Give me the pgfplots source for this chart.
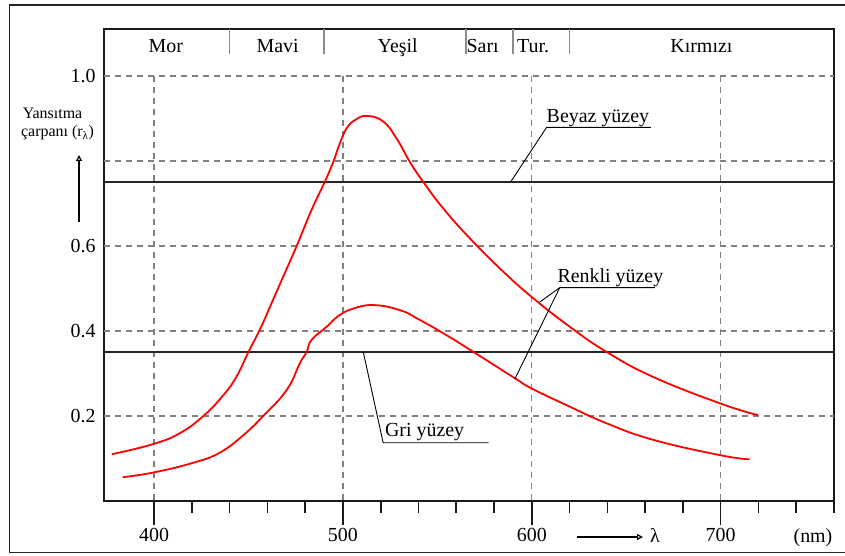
\documentclass[border=0pt]{standalone}
\usepackage{fontspec}
\setmainfont{Liberation Serif}
\usepackage{pgfplots}
\pgfplotsset{compat=1.18}
\usetikzlibrary{arrows.meta}
\definecolor{gridgray}{RGB}{128,128,128}
\definecolor{sepgray}{RGB}{140,140,140}
\definecolor{curvered}{RGB}{255,0,0}
\begin{document}
\begin{tikzpicture}[x=1bp,y=1bp]
\useasboundingbox (0,0) rectangle (845,556);
\draw[line width=1.4bp, black!85] (9.3,3.3) rectangle (870,551);
\begin{axis}[
  at={(104bp,55bp)}, anchor=south west,
  scale only axis, width=730bp, height=472bp,
  xmin=373.5, xmax=760, ymin=0, ymax=1.1106,
  clip=false,
  axis line style={line width=1.6bp, black!90},
  xtick={400,500,600,700}, xticklabels={400,500,600,700},
  minor xtick={420,440,...,760},
  ytick={0.2,0.4,0.6,1.0}, yticklabels={0.2,0.4,0.6,1.0},
  xtick pos=bottom, ytick pos=left,
  tick align=outside,
  major tick length=24bp, minor tick length=12bp,
  every tick/.style={black!90, line width=1.6bp},
  ytick style={draw=none},
  tick label style={font=\fontsize{20}{24}\selectfont, black},
  yticklabel style={xshift=19bp},
]
% grid
\draw[gridgray, line width=1.3bp, dash pattern=on 6bp off 5bp] (axis cs:373.5,0.2) -- (axis cs:760,0.2);
\draw[gridgray, line width=1.3bp, dash pattern=on 6bp off 5bp] (axis cs:373.5,0.4) -- (axis cs:760,0.4);
\draw[gridgray, line width=1.3bp, dash pattern=on 6bp off 5bp] (axis cs:373.5,0.6) -- (axis cs:760,0.6);
\draw[gridgray, line width=1.3bp, dash pattern=on 6bp off 5bp] (axis cs:373.5,0.8) -- (axis cs:760,0.8);
\draw[gridgray, line width=1.3bp, dash pattern=on 6bp off 5bp] (axis cs:373.5,1.0) -- (axis cs:760,1.0);
\draw[gridgray, line width=1.3bp, dash pattern=on 6bp off 5bp] (axis cs:400,1.0) -- (axis cs:400,0);
\draw[gridgray, line width=1.3bp, dash pattern=on 6bp off 5bp] (axis cs:500,1.0) -- (axis cs:500,0);
\draw[gridgray, line width=1.3bp, dash pattern=on 6bp off 5bp] (axis cs:600,1.0) -- (axis cs:600,0);
\draw[gridgray, line width=1.3bp, dash pattern=on 6bp off 5bp] (axis cs:700,1.0) -- (axis cs:700,0);
% header separators
\draw[sepgray, line width=1.6bp] (axis cs:440,1.1106) -- (axis cs:440,1.052);
\draw[sepgray, line width=1.6bp] (axis cs:490,1.1106) -- (axis cs:490,1.052);
\draw[sepgray, line width=1.6bp] (axis cs:565,1.1106) -- (axis cs:565,1.052);
\draw[sepgray, line width=1.6bp] (axis cs:590,1.1106) -- (axis cs:590,1.052);
\draw[sepgray, line width=1.6bp] (axis cs:620,1.1106) -- (axis cs:620,1.052);
\node[anchor=base, font=\fontsize{20}{24}\selectfont] at (axis cs:406.2,1.055) {Mor};
\node[anchor=base, font=\fontsize{20}{24}\selectfont] at (axis cs:465.4,1.055) {Mavi};
\node[anchor=base, font=\fontsize{20}{24}\selectfont] at (axis cs:529,1.055) {Yeşil};
\node[anchor=base, font=\fontsize{20}{24}\selectfont] at (axis cs:574,1.055) {Sarı};
\node[anchor=base, font=\fontsize{20}{24}\selectfont] at (axis cs:600.7,1.055) {Tur.};
\node[anchor=base, font=\fontsize{20}{24}\selectfont] at (axis cs:689.8,1.055) {Kırmızı};
% surfaces
\addplot[black!85, line width=1.8bp] coordinates {(373.5,0.75) (760,0.75)};
\addplot[black!85, line width=1.8bp] coordinates {(373.5,0.35) (760,0.35)};
% coloured surface curves
\addplot[curvered, line width=1.8bp, smooth, tension=0.75] coordinates {
 (377.6,0.110) (399.6,0.134) (413.8,0.160) (426.1,0.200) (436.7,0.249) (443.7,0.293)
 (449.9,0.350) (456.1,0.404) (461.4,0.457) (467.6,0.520) (475.5,0.600) (483.4,0.685)
 (490.5,0.752) (494.9,0.798) (498.4,0.842) (502,0.877) (506.3,0.896) (512.5,0.906)
 (521.3,0.893) (528.4,0.853) (535.4,0.798) (542.5,0.751) (553,0.689) (567.2,0.618)
 (584.8,0.540) (600.5,0.478) (620.1,0.410) (639.5,0.351) (664.2,0.292) (699.5,0.230)
 (719.7,0.202)};
\addplot[curvered, line width=1.8bp, smooth, tension=0.75] coordinates {
 (383.4,0.056) (399.6,0.067) (420.8,0.090) (434.9,0.114) (447.3,0.155) (457.8,0.200)
 (470.2,0.261) (477.2,0.324) (480.8,0.351) (483.4,0.379) (491.4,0.410) (497.5,0.435)
 (505,0.452) (516.1,0.461) (530.2,0.449) (540.7,0.426) (554.9,0.390) (569,0.351)
 (591,0.289) (599.8,0.265) (620.1,0.222) (639.5,0.183) (664.2,0.144) (699.5,0.108)
 (715.3,0.098)};
% annotations
\draw[black, line width=0.9bp] (axis cs:588.7,0.75) -- (axis cs:607.8,0.879) -- (axis cs:663,0.879);
\node[anchor=base west, inner sep=0pt, font=\fontsize{20}{24}\selectfont] at (axis cs:607.8,0.8906) {Beyaz yüzey};
\draw[black, line width=0.9bp] (axis cs:604.2,0.468) -- (axis cs:614.8,0.502) -- (axis cs:665.1,0.502);
\draw[black, line width=0.9bp] (axis cs:591,0.287) -- (axis cs:614.8,0.502);
\node[anchor=base west, inner sep=0pt, font=\fontsize{20}{24}\selectfont] at (axis cs:613.5,0.513) {Renkli yüzey};
\draw[black, line width=0.9bp] (axis cs:510.8,0.35) -- (axis cs:521.3,0.137) -- (axis cs:577.2,0.137);
\node[anchor=base west, inner sep=0pt, font=\fontsize{20}{24}\selectfont] at (axis cs:522.2,0.151) {Gri yüzey};
\end{axis}
% y label
\node[anchor=base, font=\fontsize{16}{19}\selectfont] at (52.5,437.7) {Yansıtma};
\node[anchor=base, font=\fontsize{16}{19}\selectfont] at (57.5,419.3) {çarpanı (r\textsubscript{λ})};
\draw[black, line width=1.2bp, -{Triangle[open,length=6bp,width=6bp]}] (79,334) -- (79,401);
% x label
\draw[black, line width=1.2bp, -{Triangle[open,length=6bp,width=6bp]}] (577,19) -- (643,19);
\node[anchor=base, font=\fontsize{20}{24}\selectfont] at (655,13) {λ};
\node[anchor=base, font=\fontsize{20}{24}\selectfont] at (813,13) {(nm)};
\end{tikzpicture}
\end{document}
